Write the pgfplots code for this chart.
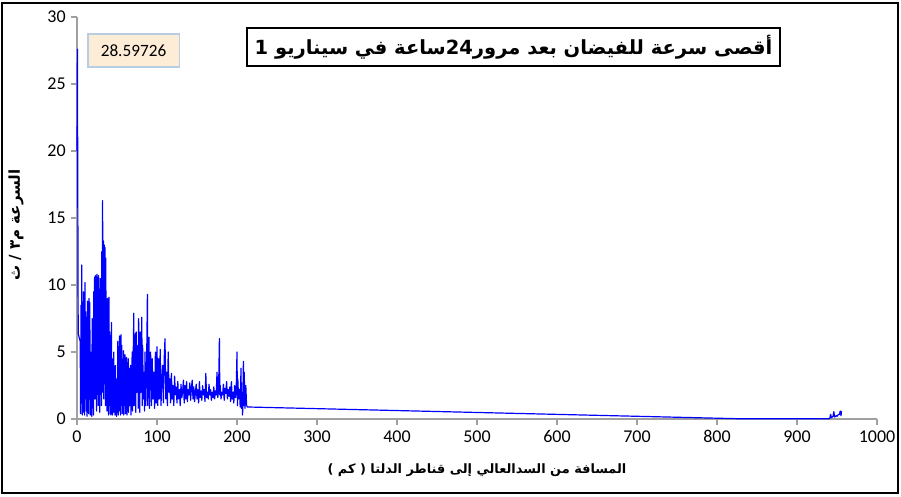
\documentclass[border=0pt]{standalone}
\usepackage{fontspec}
\usepackage{pgfplots}
\pgfplotsset{compat=1.18}
\setmainfont{Carlito}
\newfontfamily\arabicfont[Script=Arabic]{DejaVu Sans}
\TeXXeTstate=1
\definecolor{annfill}{RGB}{253,236,214}
\definecolor{annedge}{RGB}{184,204,228}
\definecolor{axgray}{RGB}{160,160,160}
\pgfplotstableread{
x y
0 20
0.5 27.6
1.5 6.4
3 6.0
4 5.8
4.5 0.4
5 8.5
5.5 1.2
6 11.5
6.5 0.3
7 7.0
7.5 2.0
8 9.5
8.5 0.5
9 6.0
9.5 0.3
10 10.2
10.5 3.0
11 8.0
11.5 0.6
12 5.5
12.5 0.2
13 8.8
13.5 1.0
14 6.5
14.5 0.4
15 9.0
15.5 2.5
16 8.7
16.5 0.3
17 5.0
17.5 0.8
18 3.5
18.5 0.2
19 7.5
19.5 1.0
20 4.0
20.5 0.3
21 9.5
21.5 2.0
22 10.6
22.5 1.5
23 10.7
23.5 3.0
24 10.5
24.5 0.6
25 10.8
25.5 4.0
26 10.4
26.5 1.0
27 10.7
27.5 2.5
28 9.0
28.5 0.5
29 10.5
29.5 3.0
30 7.0
30.5 1.0
31 12.5
31.5 2.0
32 16.3
32.5 3.0
33 13.3
33.5 1.5
34 13.0
34.5 6.0
35 12.8
35.5 1.0
36 12.0
36.5 2.0
37 8.0
37.5 0.6
38 9.0
38.5 1.5
39 7.0
39.5 0.3
40 9.1
40.5 1.0
41 6.5
41.5 0.4
42 5.0
42.5 0.3
43 7.2
43.5 1.5
44 4.5
44.5 0.3
45 3.5
45.5 0.5
46 5.0
46.5 0.8
47 2.5
47.5 0.3
48 4.0
48.5 0.6
49 2.0
49.5 0.2
50 3.0
50.5 0.5
51 5.8
51.5 0.3
52 3.0
52.5 0.6
53 6.2
53.5 1.0
54 4.0
54.5 0.3
55 6.3
55.5 1.5
56 5.5
56.5 0.4
57 3.5
57.5 0.8
58 5.1
58.5 0.3
59 4.0
59.5 1.0
60 4.8
60.5 0.4
61 3.0
62 4.6
62.5 0.3
63 2.5
64 4.5
64.5 0.5
65 3.8
66 1.0
67 4.0
67.5 0.3
68 2.0
69 5.0
69.5 0.6
70 3.5
71 7.9
71.5 1.0
72 5.0
73 6.4
73.5 0.5
74 6.5
75 2.0
76 5.5
76.5 0.8
77 7.5
78 3.0
78.5 0.5
79 6.5
80 2.0
81 7.6
81.5 1.0
82 5.5
83 1.5
84 3.5
84.5 0.6
85 5.0
86 1.0
87 4.0
88 9.3
88.5 1.0
89 4.0
90 6.1
90.5 0.8
91 3.0
92 5.0
93 1.0
94 4.5
95 1.5
96 3.5
97 0.8
98 5.0
99 1.2
100 5.4
101 1.0
102 4.5
103 1.5
104 5.2
105 1.0
106 3.0
107 4.0
108 1.2
109 4.5
110 6.0
111 1.5
112 3.5
113 1.0
114 5.0
115 2.0
116 3.0
117 1.2
118 3.4
119 1.5
120 2.5
121 1.0
122 3.2
123 1.8
124 2.4
125 1.2
126 2.8
127 1.5
128 2.2
129 1.0
130 2.6
131 1.6
132 2.0
133 2.9
134 1.2
135 2.5
136 1.5
137 2.8
138 1.3
139 2.2
140 1.8
141 2.7
142 1.4
143 2.3
144 2.9
145 1.5
146 2.4
147 1.3
148 2.0
149 2.6
150 1.5
151 2.2
152 1.2
153 2.8
154 1.6
155 2.1
156 1.4
157 2.5
158 1.8
159 2.2
160 1.3
161 3.4
162 1.6
163 2.0
164 1.5
165 2.6
166 1.8
167 2.2
168 1.4
169 2.0
170 1.6
171 2.4
172 1.5
173 2.1
174 1.8
175 3.5
176 1.6
177 2.2
178 6.0
178.5 1.8
179 2.5
180 1.5
181 2.0
182 1.8
183 2.6
184 1.4
185 2.3
186 1.9
187 2.8
188 1.5
189 2.2
190 1.7
191 2.4
192 1.3
193 2.8
194 1.5
195 2.0
196 1.2
197 2.5
198 1.6
199 2.2
200 5.0
200.5 1.0
201 3.0
202 1.5
203 2.2
204 0.9
205 3.8
205.5 0.8
206 2.0
207 0.3
208 4.3
208.5 1.0
209 3.5
210 0.8
211 2.5
212 1.0
213 0.9
830 0.02
940 0.02
941 0.05
942 0.35
943 0.1
945 0.2
946 0.55
947 0.15
949 0.25
950 0.2
951 0.3
953 0.35
954 0.6
955 0.25
955.5 0.6
}\flood
\begin{document}
\begin{tikzpicture}[x=1pt,y=1pt]
\useasboundingbox (-51.36,-51.36) rectangle (549.6,279.5);
\draw[line width=1.1pt] (-50,-49.4) rectangle (547.6,277.5);
\begin{axis}[
  at={(0,0)}, anchor=south west,
  scale only axis, width=533.6pt, height=268.1pt,
  xmin=0, xmax=1000, ymin=0, ymax=30,
  xtick={0,100,...,1000}, ytick={0,5,...,30},
  axis x line=bottom, axis y line=left,
  axis line style={-, draw=axgray, line width=0.8pt},
  tick style={draw=axgray, line width=0.8pt},
  tick align=outside, major tick length=4pt,
  minor tick num=0,
  /pgf/number format/assume math mode=true,
  /pgf/number format/1000 sep={},
  ticklabel style={font=\fontsize{12}{14}\selectfont},
  clip=false,
]
\addplot[draw={rgb,255:red,0;green,0;blue,255}, line width=0.8pt, line join=round] table[x=x,y=y] {\flood};
\end{axis}
% title box
\node[draw=black, line width=1.6pt, fill=white, minimum width=355.5pt, minimum height=25.3pt, inner sep=0pt]
  at (291.2,248.1) {\arabicfont\bfseries\fontsize{13}{15}\selectfont\beginR أقصى سرعة للفيضان بعد مرور\beginL 24\endL{}ساعة في سيناريو \beginL 1\endL\endR};
% annotation
\node[draw=annedge, fill=annfill, line width=0.7pt, minimum width=60.7pt, minimum height=22pt, inner sep=0pt]
  at (37.7,245.8) {\fontsize{11.5}{13}\selectfont 28.59726};
% axis labels
\node[rotate=90] at (-40.7,129.4) {\arabicfont\bfseries\fontsize{10}{12}\selectfont\beginR السرعة م٣ / ث\endR};
\node at (266.8,-34.0) {\arabicfont\bfseries\fontsize{8.6}{10}\selectfont\beginR المسافة من السدالعالي إلى قناطر الدلتا ( كم )\endR};
\end{tikzpicture}
\end{document}
